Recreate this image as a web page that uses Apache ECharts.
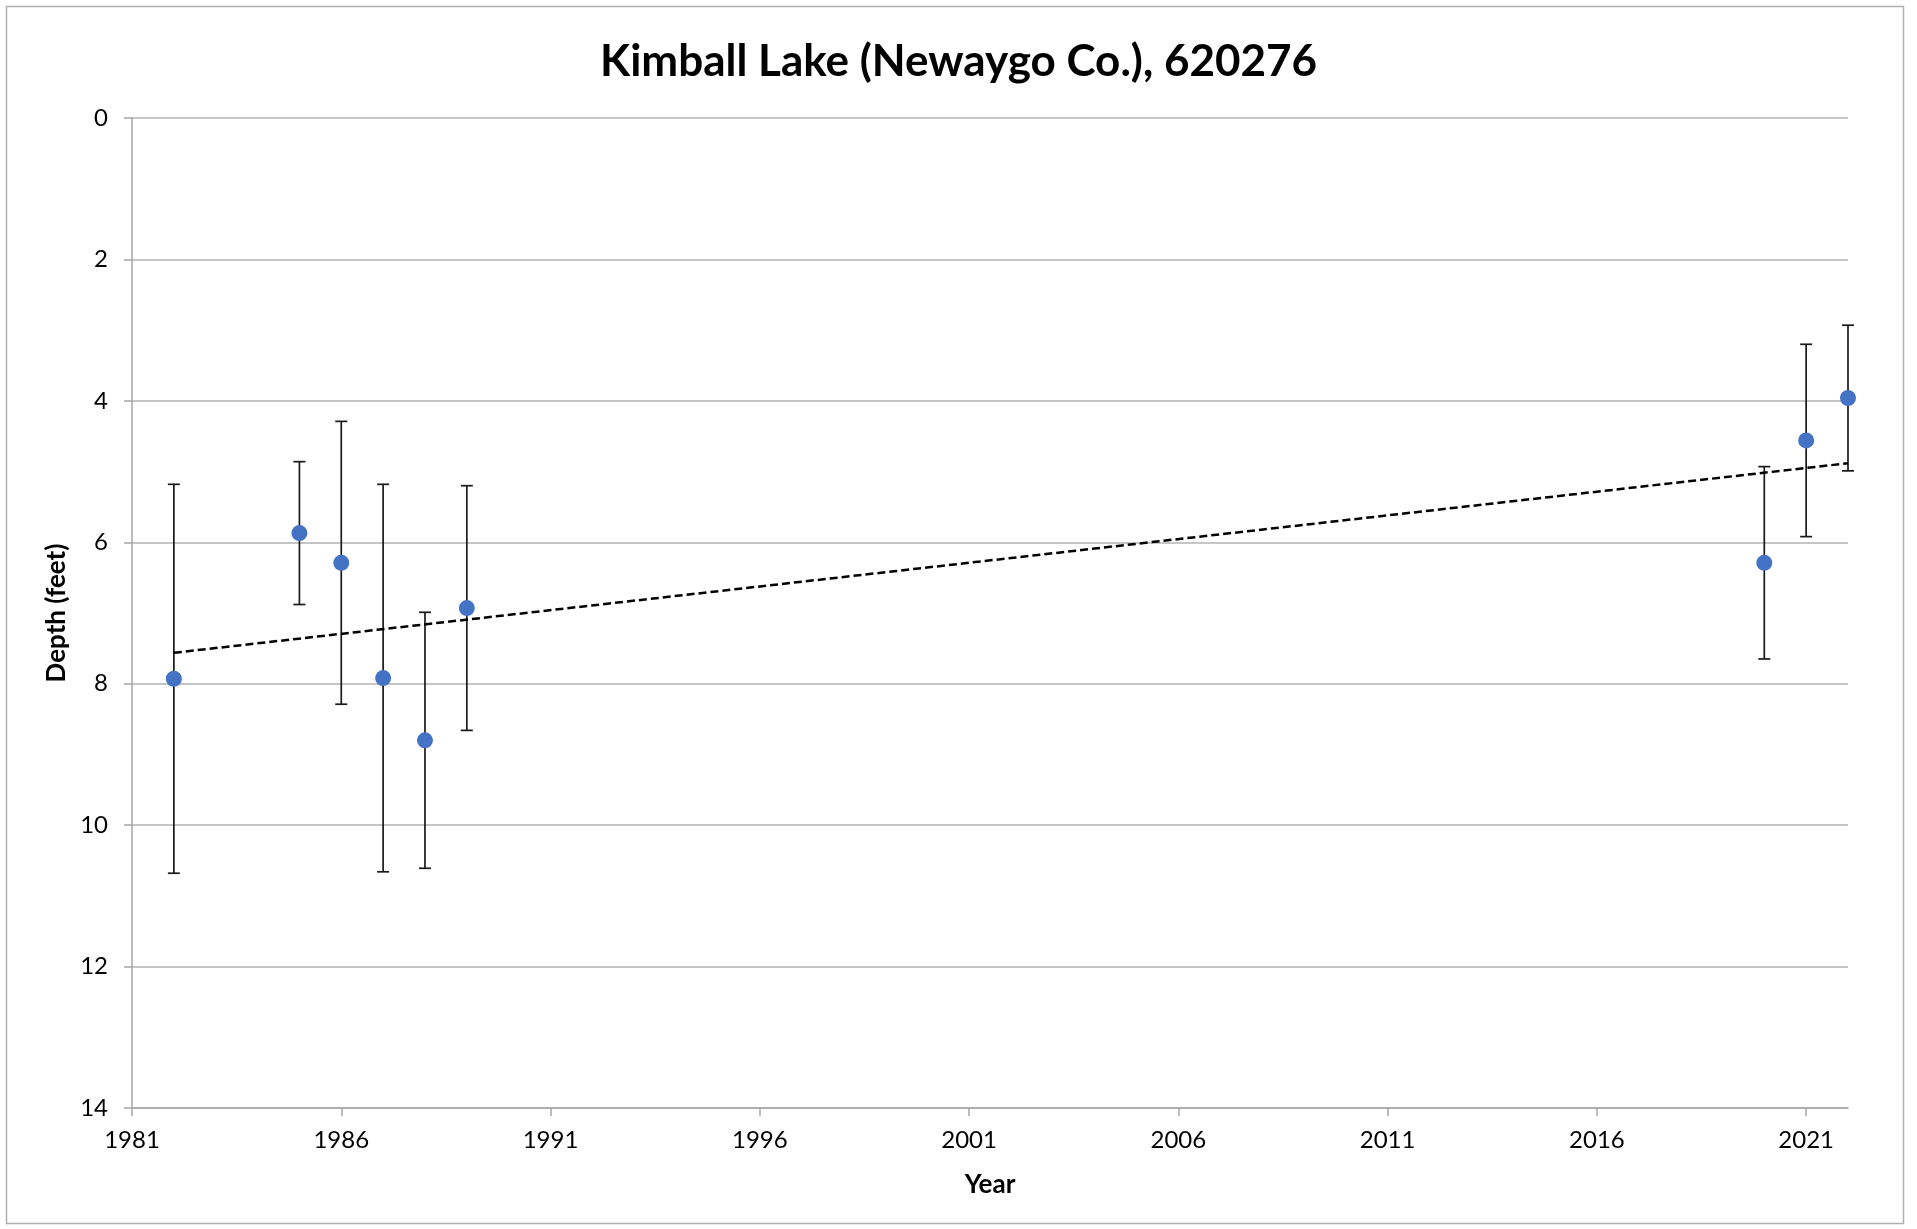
<!DOCTYPE html>
<html>
<head>
<meta charset="utf-8">
<title>Kimball Lake (Newaygo Co.), 620276</title>
<script src="https://cdn.jsdelivr.net/npm/echarts@6/dist/echarts.min.js"></script>
<style>
    html, body { margin: 0; padding: 0; background: #fff; }
    #main { width: 1917px; height: 1229px; }
</style>
</head>
<body>
<div id="main"></div>
<script>
// data
var years = [1982, 1985, 1986, 1987, 1988, 1989, 2020, 2021, 2022];
var depths = [7.93, 5.87, 6.29, 7.92, 8.80, 6.93, 6.29, 4.56, 3.96];
var stdDevs = [2.75, 1.01, 2.00, 2.74, 1.81, 1.73, 1.36, 1.36, 1.03];
var yearTicks = [1981, 1986, 1991, 1996, 2001, 2006, 2011, 2016, 2021];
var depthTicks = [0, 2, 4, 6, 8, 10, 12, 14];

var FONT = 'Lato, "Open Sans", sans-serif';

class DepthChart {
    constructor() {
        this.chart = echarts.init(document.getElementById('main'), null, { renderer: 'canvas' });
        this.init();
    }
    init() {
        this.chart.setOption(this.buildOption());
    }
    // least squares trendline, drawn between first and last year
    trendLine() {
        var n = years.length, mx = 0, my = 0, sxy = 0, sxx = 0;
        for (var i = 0; i < n; i++) { mx += years[i] / n; my += depths[i] / n; }
        for (var j = 0; j < n; j++) {
            sxy += (years[j] - mx) * (depths[j] - my);
            sxx += (years[j] - mx) * (years[j] - mx);
        }
        var slope = sxy / sxx;
        var x0 = years[0], x1 = years[n - 1];
        return [[x0, my + slope * (x0 - mx)], [x1, my + slope * (x1 - mx)]];
    }
    buildOption() {
        var points = years.map(function (y, i) { return [y, depths[i]]; });
        var bars = years.map(function (y, i) { return [y, depths[i] - stdDevs[i], depths[i] + stdDevs[i]]; });
        return {
            backgroundColor: '#fff',
            animation: false,
            title: {
                text: 'Kimball Lake (Newaygo Co.), 620276',
                left: 'center',
                top: 35,
                textStyle: { fontFamily: FONT, fontSize: 44, fontWeight: 'bold', color: '#000' }
            },
            graphic: [{
                type: 'rect',
                shape: { x: 6.5, y: 6.5, width: 1897, height: 1217 },
                style: { fill: 'none', stroke: '#b0b0b0', lineWidth: 1.5 },
                silent: true
            }],
            grid: { left: 132, right: 69, top: 118, bottom: 121 },
            xAxis: {
                type: 'value',
                min: 1981,
                max: 2022,
                name: 'Year',
                nameLocation: 'middle',
                nameGap: 64,
                nameTextStyle: { fontFamily: FONT, fontSize: 26, fontWeight: 'bold', color: '#000' },
                splitLine: { show: false },
                axisLine: { onZero: false, lineStyle: { color: '#a6a6a6', width: 1.5 } },
                axisTick: { customValues: yearTicks, length: 8, lineStyle: { color: '#a6a6a6', width: 1.5 } },
                axisLabel: {
                    customValues: yearTicks,
                    margin: 20,
                    formatter: function (v) { return String(v); },
                    fontFamily: FONT, fontSize: 24, color: '#000'
                }
            },
            yAxis: {
                type: 'value',
                inverse: true,
                min: depthTicks[0],
                max: depthTicks[depthTicks.length - 1],
                interval: depthTicks[1] - depthTicks[0],
                name: 'Depth (feet)',
                nameLocation: 'middle',
                nameRotate: 90,
                nameGap: 62,
                nameTextStyle: { fontFamily: FONT, fontSize: 26, fontWeight: 'bold', color: '#000' },
                splitLine: { lineStyle: { color: '#c6c6c6', width: 2 } },
                axisLine: { show: true, onZero: false, lineStyle: { color: '#a6a6a6', width: 1.5 } },
                axisTick: { show: true, length: 8, lineStyle: { color: '#a6a6a6', width: 1.5 } },
                axisLabel: { margin: 24, fontFamily: FONT, fontSize: 24, color: '#000' }
            },
            series: [
                {
                    name: 'error',
                    type: 'custom',
                    z: 2,
                    data: bars,
                    renderItem: function (params, api) {
                        var x = api.value(0);
                        var top = api.coord([x, api.value(1)]);
                        var bot = api.coord([x, api.value(2)]);
                        var cap = 6;
                        var st = { stroke: '#1a1a1a', lineWidth: 1.7 };
                        return {
                            type: 'group',
                            children: [
                                { type: 'line', shape: { x1: top[0], y1: top[1], x2: bot[0], y2: bot[1] }, style: st },
                                { type: 'line', shape: { x1: top[0] - cap, y1: top[1], x2: top[0] + cap, y2: top[1] }, style: st },
                                { type: 'line', shape: { x1: bot[0] - cap, y1: bot[1], x2: bot[0] + cap, y2: bot[1] }, style: st }
                            ]
                        };
                    }
                },
                {
                    name: 'trend',
                    type: 'line',
                    z: 3,
                    data: this.trendLine(),
                    symbol: 'none',
                    lineStyle: { color: '#000', width: 2.5, type: [8, 4] }
                },
                {
                    name: 'depth',
                    type: 'scatter',
                    z: 4,
                    data: points,
                    symbol: 'circle',
                    symbolSize: 16,
                    itemStyle: { color: '#4472C4', opacity: 1 }
                }
            ]
        };
    }
}

new DepthChart();
</script>
</body>
</html>
